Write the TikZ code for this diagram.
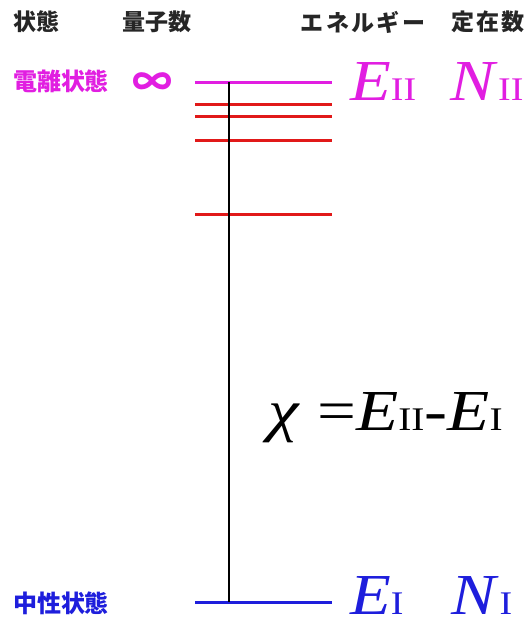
\documentclass[tikz,border=0pt]{standalone}
\usepackage{fontspec}
\usepackage{graphicx}
\setmainfont{Liberation Serif}
\newfontfamily\jpfont{Noto Sans CJK JP}
\usetikzlibrary{positioning}

\definecolor{ionmag}{RGB}{225,30,225}
\definecolor{exred}{RGB}{225,25,25}
\definecolor{neublue}{RGB}{30,30,220}

\newcommand{\subsz}{\fontsize{33}{33}\selectfont}
\newcommand{\lvlsym}[2]{\scalebox{1.15}[1]{\textit{#1}{\subsz #2}}}

\begin{document}
\begin{tikzpicture}[
  x=1pt, y=-1pt,
  head/.style  = {font=\fontsize{23}{23}\jpfont\bfseries, text=black!85,
                  inner sep=0pt},
  state/.style = {font=\fontsize{24}{24}\jpfont\bfseries, inner sep=0pt},
  lvl/.style   = {line width=3pt},
  big/.style   = {font=\fontsize{58}{58}\selectfont, inner sep=0pt},
]
\useasboundingbox (0,0) rectangle (531,622);

%% ── Column heads ─────────────────────────────────────────────────────────
\node[head] (hstate)  at (36,22)  {状態};
\node[head] (hquant)  at (157,22) {量子数};
\node[head] (henergy) at (363,22) {\addfontfeature{LetterSpace=10}エネルギー};
\node[head] (hpop)    at (488,22) {\addfontfeature{LetterSpace=10}定在数};

%% ── Levels ───────────────────────────────────────────────────────────────
\coordinate (ionL) at (195,82);  \coordinate (ionR) at (332,82);
\coordinate (neuL) at (195,602); \coordinate (neuR) at (332,602);
\coordinate (axT)  at (229,82);  \coordinate (axB)  at (229,602);

\draw[lvl, ionmag]  (ionL) -- (ionR);
\foreach \y in {104,116,140,214}
  \draw[lvl, exred] (195,\y) -- (332,\y);
\draw[lvl, neublue] (neuL) -- (neuR);
\draw[line width=2.8pt] (axT) -- (axB);

%% ── Ionised state ────────────────────────────────────────────────────────
\node[state, text=ionmag] (ion) at (61,81) {電離状態};
\node[text=ionmag, inner sep=0pt, font=\fontsize{40}{40}\jpfont\bfseries]
     (inf) at (152,85) {∞};
\node[big, text=ionmag, right=18pt of ionR] (Eion) {\lvlsym{E}{II}};
\node[big, text=ionmag, right=34pt of Eion] (Nion) {\lvlsym{N}{II}};

%% ── Neutral state ────────────────────────────────────────────────────────
\node[state, text=neublue] (neu) at (61,603) {中性状態};
\node[big, text=neublue, right=18pt of neuR, yshift=6pt] (Eneu) {\lvlsym{E}{I}};
\node[big, text=neublue, right=48pt of Eneu] (Nneu) {\lvlsym{N}{I}};

%% ── Ionisation energy ────────────────────────────────────────────────────
\node[big, anchor=base west] (chi) at (268,430)
     {\scalebox{1.19}[1]{\textit{χ} =\textit{E}{\subsz II}-\textit{E}{\subsz I}}};

\end{tikzpicture}
\end{document}
